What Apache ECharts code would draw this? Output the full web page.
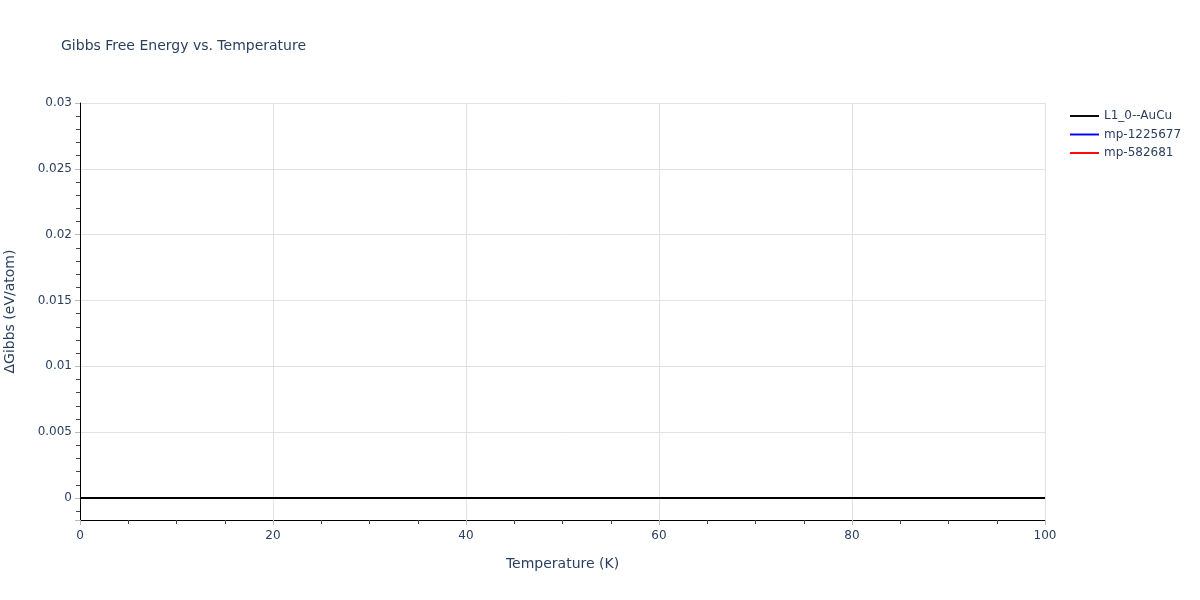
<!DOCTYPE html>
<html>
<head>
<meta charset="utf-8">
<script src="https://cdn.jsdelivr.net/npm/echarts@6/dist/echarts.min.js"></script>
<style>
  html, body { margin: 0; padding: 0; background: #fff; }
  #chart { width: 1200px; height: 600px; }
</style>
</head>
<body>
<div id="chart"></div>
<script>
// temperature (K) and Gibbs difference (eV/atom) per phase
var temps = [0, 10, 20, 30, 40, 50, 60, 70, 80, 90, 100];
var gL10AuCu = [0, 0, 0, 0, 0, 0, 0, 0, 0, 0, 0];
var gMp1225677 = [0, 0, 0, 0, 0, 0, 0, 0, 0, 0, 0];
var gMp582681 = [0, 0, 0, 0, 0, 0, 0, 0, 0, 0, 0];
var seriesNames = ['L1_0--AuCu', 'mp-1225677', 'mp-582681'];

function pairs(xs, ys) {
    var out = [];
    for (var i = 0; i < xs.length; i++) {
        out.push([xs[i], ys[i]]);
    }
    return out;
}

var txt = '#2a3f5f';
var font = '"DejaVu Sans", Verdana, sans-serif';

var myChart = echarts.init(document.getElementById('chart'));

var option = {
    animation: false,
    textStyle: { fontFamily: font },
    title: {
        text: 'Gibbs Free Energy vs. Temperature',
        left: 56,
        top: 34,
        textStyle: { color: txt, fontSize: 14, fontWeight: 'normal', fontFamily: font }
    },
    legend: {
        orient: 'vertical',
        left: 1065,
        top: 105,
        itemGap: 6.5,
        itemWidth: 29,
        itemHeight: 12,
        icon: 'path://M0,5 L30,5 L30,7 L0,7 Z',
        data: seriesNames,
        textStyle: { color: txt, fontSize: 12, fontFamily: font }
    },
    grid: {
        left: 80,
        right: 155,
        top: 103,
        bottom: 80,
        outerBoundsMode: 'none',
        containLabel: false
    },
    xAxis: {
        type: 'value',
        min: 0,
        max: 100,
        interval: 20,
        name: 'Temperature (K)',
        nameLocation: 'middle',
        nameGap: 37,
        nameTextStyle: { color: txt, fontSize: 14, fontFamily: font },
        axisLine: { show: true, onZero: false, lineStyle: { color: '#000', width: 1 } },
        axisTick: { show: true, length: 5, lineStyle: { color: '#bbb' } },
        minorTick: { show: true, splitNumber: 4, length: 4, lineStyle: { color: '#444' } },
        axisLabel: { color: txt, fontSize: 12, margin: 10, fontFamily: font },
        splitLine: { show: true, lineStyle: { color: '#e2e2e2', width: 1 } }
    },
    yAxis: {
        type: 'value',
        min: -0.00167,
        max: 0.03,
        splitNumber: 6,
        name: 'ΔGibbs (eV/atom)',
        nameLocation: 'middle',
        nameGap: 63,
        nameTextStyle: { color: txt, fontSize: 14, fontFamily: font },
        axisLine: { show: true, onZero: false, lineStyle: { color: '#000', width: 1 } },
        axisTick: { show: true, length: 5, lineStyle: { color: '#bbb' } },
        minorTick: { show: true, splitNumber: 5, length: 4, lineStyle: { color: '#444' } },
        axisLabel: {
            color: txt,
            fontSize: 12,
            margin: 8,
            padding: [3, 0, 0, 0],
            fontFamily: font,
            showMinLabel: false,
            formatter: function (v) {
                return String(parseFloat(v.toFixed(4)));
            }
        },
        splitLine: { show: true, lineStyle: { color: '#e2e2e2', width: 1 } }
    },
    series: [
        {
            name: 'mp-582681',
            type: 'line',
            data: pairs(temps, gMp582681),
            showSymbol: false,
            lineStyle: { color: '#ff0000', width: 2 },
            itemStyle: { color: '#ff0000' }
        },
        {
            name: 'mp-1225677',
            type: 'line',
            data: pairs(temps, gMp1225677),
            showSymbol: false,
            lineStyle: { color: '#0000ff', width: 2 },
            itemStyle: { color: '#0000ff' }
        },
        {
            name: 'L1_0--AuCu',
            type: 'line',
            data: pairs(temps, gL10AuCu),
            showSymbol: false,
            lineStyle: { color: '#000000', width: 2 },
            itemStyle: { color: '#000000' }
        }
    ]
};

myChart.setOption(option);
</script>
</body>
</html>
